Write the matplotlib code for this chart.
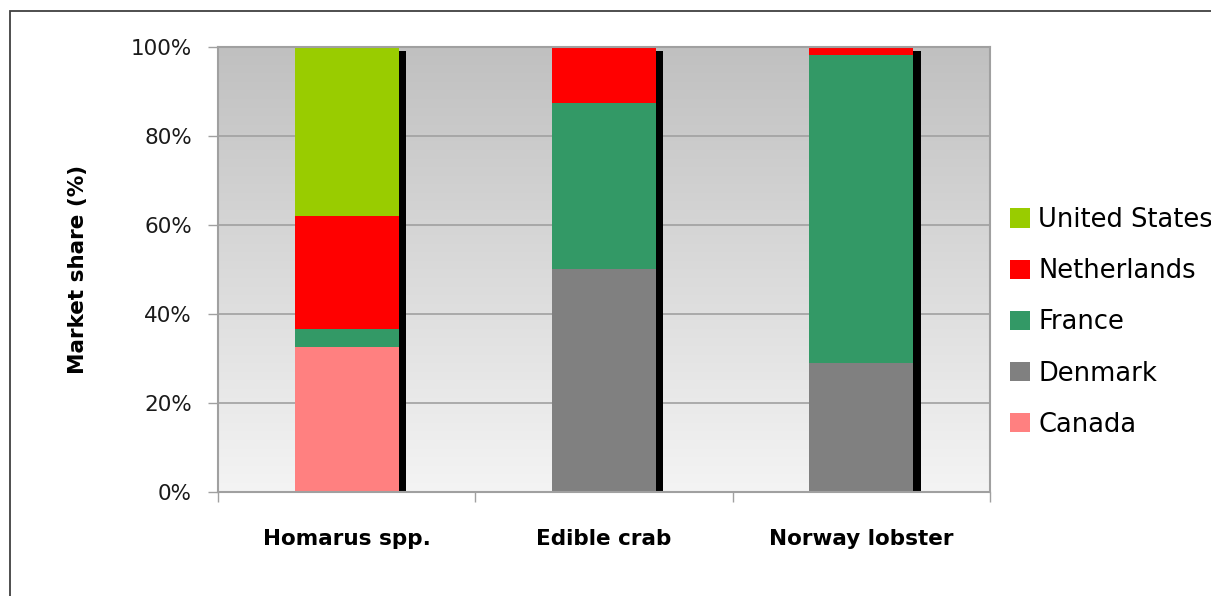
import matplotlib
matplotlib.use("Agg")
import matplotlib.pyplot as plt
import matplotlib.transforms as mtransforms
from matplotlib.patches import Rectangle
from matplotlib.colors import LinearSegmentedColormap
import numpy as np

categories = ["Homarus spp.", "Edible crab", "Norway lobster"]
series = ["Canada", "Denmark", "France", "Netherlands", "United States"]
canada = [32.6, 0.0, 0.0]
denmark = [0.0, 50.2, 29.1]
france = [4.0, 37.3, 69.2]
netherlands = [25.5, 12.5, 1.7]
united_states = [37.9, 0.0, 0.0]
values = [canada, denmark, france, netherlands, united_states]
colors = ["#ff8080", "#808080", "#339966", "#ff0000", "#99cc00"]
yticks = [0, 20, 40, 60, 80, 100]
ytick_labels = ["0%", "20%", "40%", "60%", "80%", "100%"]

plt.rcParams['font.family'] = ['DejaVu Sans']

W, H = 1211, 596
fig = plt.figure(figsize=(W / 100, H / 100), dpi=100)
ax = fig.add_axes([218 / W, 1 - 492 / H, (990 - 218) / W, (492 - 47) / H])

# figure border
fig.add_artist(Rectangle((10 / W, -0.1), 1.2, 1 - 11 / H + 0.1, transform=fig.transFigure,
                         fill=False, edgecolor="#404040", linewidth=1.3))

# gradient background
grad = np.linspace(0, 1, 256).reshape(-1, 1)
cmap = LinearSegmentedColormap.from_list("bg", ["#c0c0c0", "#f4f4f4"])
ax.imshow(grad, aspect="auto", cmap=cmap, extent=[0, 1, 0, 1], transform=ax.transAxes, zorder=0)

x = np.arange(len(categories))
width = 0.405
totals = np.sum(np.array(values), axis=0)

# shadow
shadow_tr = mtransforms.offset_copy(ax.transData, fig=fig, x=5.3, y=-2.6, units="points")
ax.bar(x, totals, width, color="black", transform=shadow_tr, zorder=2, linewidth=0)

bottom = np.zeros(len(categories))
handles = []
for name, vals, c in zip(series, values, colors):
    b = ax.bar(x, vals, width, bottom=bottom, color=c, label=name, zorder=3, linewidth=0)
    handles.append(b)
    bottom += np.array(vals)

ax.set_xlim(-0.5, len(categories) - 0.5)
ax.set_ylim(0, 100)
ax.set_yticks(yticks)
ax.set_yticklabels(ytick_labels, fontsize=15.5, color="#1a1a1a")
ax.yaxis.grid(True, color="#a0a0a0", linewidth=1.2, zorder=1)
ax.set_axisbelow(True)
ax.set_xticks(np.arange(len(categories) + 1) - 0.5, minor=False)
ax.set_xticklabels([])
ax.set_xticks(x, minor=True)
ax.set_xticklabels(categories, minor=True, fontsize=15.5, fontweight="bold")
ax.tick_params(axis="x", which="minor", length=0, pad=26.5)
ax.tick_params(axis="x", which="major", length=7.2, color="#a0a0a0", width=1)
ax.tick_params(axis="y", length=7.2, color="#a0a0a0", width=1, pad=11.5)
for s in ax.spines.values():
    s.set_color("#a0a0a0")
    s.set_linewidth(1.5)
    s.set_zorder(4)

ax.set_ylabel("Market share (%)", fontsize=15.5, fontweight="bold")
ax.yaxis.set_label_coords((88 - 218) / (990 - 218), 0.5)

leg = fig.legend(handles[::-1], series[::-1], loc="upper left",
                 bbox_to_anchor=(1010 / W, 1 - 207 / H), frameon=False,
                 fontsize=18.5, handlelength=0.78, handleheight=0.78,
                 labelspacing=0.98, handletextpad=0.31, borderaxespad=0, borderpad=0)

fig.savefig("out.png", dpi=100)
